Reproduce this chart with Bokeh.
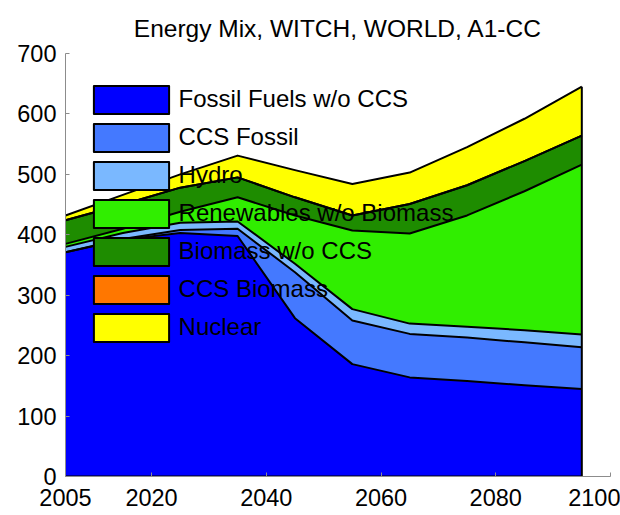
import numpy as np
from bokeh.plotting import figure
from bokeh.models import Range1d, FixedTicker, Legend, LegendItem, ColumnDataSource
from bokeh.embed import file_html
from bokeh.resources import INLINE

# ---- data ----
years = [2005, 2015, 2025, 2035, 2045, 2055, 2065, 2075, 2085, 2095]
names = ["Fossil Fuels w/o CCS", "CCS Fossil", "Hydro", "Renewables w/o Biomass",
         "Biomass w/o CCS", "CCS Biomass", "Nuclear"]
fossil = [371, 392, 403, 398, 262, 186, 164, 158, 151, 145]
ccs_fossil = [0, 1, 5, 12, 76, 72, 72, 72, 71, 69]
hydro = [9, 10, 12, 12, 14, 19, 17, 18, 20, 21]
renewables = [5, 7, 18, 40, 80, 130, 149, 184, 230, 281]
biomass = [39, 40, 40, 33, 30, 25, 49, 50, 50, 48]
ccs_biomass = [0, 0, 0, 0, 0, 0, 0, 0, 0, 0]
nuclear = [8, 16, 22, 36, 45, 52, 52, 63, 70, 81]
y_ticks = [0, 100, 200, 300, 400, 500, 600, 700]
x_ticks = [2005, 2020, 2040, 2060, 2080, 2100]
title = "Energy Mix, WITCH, WORLD, A1-CC"

layers = [fossil, ccs_fossil, hydro, renewables, biomass, ccs_biomass, nuclear]
colors = ["#0000ff", "#4479ff", "#7ab8ff", "#30ee00", "#1e8c00", "#ff7700", "#ffff00"]

FONT = "Liberation Sans"

xr = Range1d(2005, 2100)
yr = Range1d(0, 700)
p = figure(width=620, height=515, output_backend="svg", toolbar_location=None,
           x_range=xr, y_range=yr,
           min_border_left=65, min_border_right=10, min_border_top=53, min_border_bottom=39)
p.title.text = title
p.title.align = "center"
p.title.text_font = FONT
p.title.text_font_size = "24.5px"
p.title.text_font_style = "normal"
p.title.text_color = "black"
p.title.standoff = 23

p.grid.visible = False
p.outline_line_color = None
p.background_fill_color = "white"
p.border_fill_color = "white"

bottom = np.zeros(len(years))
tops = []
for vals, col in zip(layers, colors):
    top = bottom + np.array(vals, dtype=float)
    p.varea(x=years, y1=bottom, y2=top, fill_color=col)
    tops.append(top)
    bottom = top

# edges
p.line(years, np.zeros(len(years)), line_color="black", line_width=2)
for top in tops:
    p.line(years, top, line_color="black", line_width=2, line_join="round")
p.segment(x0=[years[-1]], y0=[0], x1=[years[-1]], y1=[tops[-1][-1]],
          line_color="black", line_width=2)

# legend via proxy renderers (degenerate one-vertex patches, nothing visible)
items = []
for name, col in zip(names, colors):
    r = p.patch(x="x", y="y", source=ColumnDataSource(dict(x=[years[0]], y=[0])),
                fill_color=col, line_color="black", line_width=2, line_join="round")
    items.append(LegendItem(label=name, renderers=[r]))
legend = Legend(items=items, location=(18.6, 131.5), padding=0, margin=0,
                glyph_width=94, glyph_height=35, spacing=3, label_standoff=1,
                label_height=35, label_text_font=FONT, label_text_font_size="24px",
                label_text_color="black", background_fill_alpha=0, border_line_alpha=0)
p.add_layout(legend)

for ax in (p.xaxis[0], p.yaxis[0]):
    ax.axis_line_color = "#8c8c8c"
    ax.major_tick_line_color = "#8c8c8c"
    ax.major_tick_in = 4
    ax.major_tick_out = 0
    ax.minor_tick_line_color = None
    ax.major_label_text_font = FONT
    ax.major_label_text_font_size = "23.5px"
    ax.major_label_text_color = "black"

p.yaxis.ticker = FixedTicker(ticks=y_ticks)
p.yaxis.major_label_standoff = 9
p.xaxis.ticker = FixedTicker(ticks=x_ticks)
p.xaxis.major_label_standoff = 12

open("out.html", "w").write(file_html(p, INLINE))
